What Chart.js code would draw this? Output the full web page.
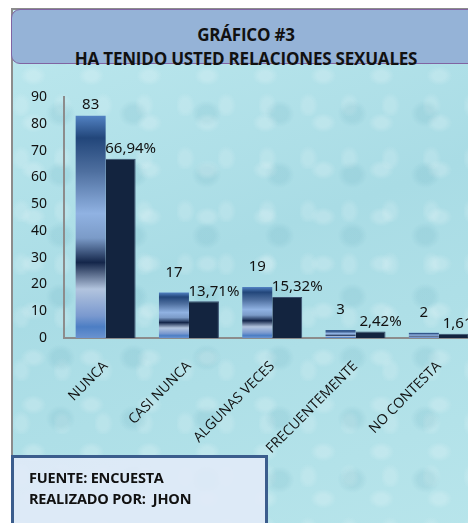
<!DOCTYPE html>
<html>
<head>
<meta charset="utf-8">
<script src="https://cdn.jsdelivr.net/npm/chart.js@4"></script>
<style>
  html, body { margin: 0; padding: 0; background: #fff; overflow: hidden; }
  #wrap { position: relative; width: 468px; height: 523px; overflow: hidden; }
  #frame {
    position: absolute; left: 11px; top: 8px; width: 480px; height: 530px;
    border: 2px solid #8c8c8c; box-sizing: border-box;
    background:
      radial-gradient(ellipse at 35% 40%, rgba(255,255,255,0.18) 0 6px, rgba(255,255,255,0) 13px) 0 0 / 58px 47px,
      radial-gradient(ellipse at 65% 70%, rgba(70,150,170,0.12) 0 8px, rgba(70,150,170,0) 15px) 0 0 / 73px 61px,
      radial-gradient(ellipse at 20% 80%, rgba(255,255,255,0.14) 0 5px, rgba(255,255,255,0) 10px) 0 0 / 41px 53px,
      linear-gradient(160deg, #bde8ee 0%, #a9dce5 45%, #b8e5eb 100%);
  }
  #titleBox {
    position: absolute; left: 11px; top: 9px; width: 480px; height: 55px;
    background: #95b3d7; border: 1.5px solid #8064a2; border-radius: 9px; box-sizing: border-box;
  }
  #title {
    position: absolute; left: 11px; top: 23px; width: 470px; text-align: center;
    font-family: "Open Sans", sans-serif; font-weight: bold; font-size: 17px; line-height: 24px; color: #111;
    letter-spacing: -0.2px;
  }
  #chartBox { position: absolute; left: 0; top: 0; width: 500px; height: 523px; }
  #footer {
    position: absolute; left: 11px; top: 455px; width: 257px; height: 90px;
    border: 3px solid #3b5d8d; box-sizing: border-box; background: rgba(226,234,248,0.88);
    font-family: "Open Sans", sans-serif; font-weight: bold; font-size: 14.5px; line-height: 21px; color: #111;
    padding: 9px 0 0 15px; letter-spacing: -0.2px;
  }
</style>
</head>
<body>
<div id="wrap">
  <div id="frame"></div>
  <div id="titleBox"></div>
  <div id="title">GRÁFICO #3<br>HA TENIDO USTED RELACIONES SEXUALES</div>
  <div id="chartBox"><canvas id="grafico" width="500" height="523"></canvas></div>
  <div id="footer">FUENTE: ENCUESTA<br>REALIZADO POR:&nbsp; JHON</div>
</div>
<script>
const categorias = ["NUNCA", "CASI NUNCA", "ALGUNAS VECES", "FRECUENTEMENTE", "NO CONTESTA"];
const frecuencia = [83, 17, 19, 3, 2];
const porcentaje = [66.94, 13.71, 15.32, 2.42, 1.61];
const yTicks = [0, 10, 20, 30, 40, 50, 60, 70, 80, 90];

function barraMetalica(ctx) {
  const chart = ctx.chart;
  if (!chart.chartArea || ctx.type !== "data") return "#4f7fc0";
  const y = chart.scales.y;
  const top = y.getPixelForValue(ctx.raw);
  const base = y.getPixelForValue(0);
  if (!(base > top)) return "#4f7fc0";
  const g = chart.ctx.createLinearGradient(0, top, 0, base);
  g.addColorStop(0, "#5282c3");
  g.addColorStop(0.1, "#22467a");
  g.addColorStop(0.25, "#4e6f9f");
  g.addColorStop(0.44, "#90b2e2");
  g.addColorStop(0.55, "#7b9bc8");
  g.addColorStop(0.66, "#14264a");
  g.addColorStop(0.78, "#b2c4de");
  g.addColorStop(0.9, "#7a99cf");
  g.addColorStop(0.95, "#4c7ec4");
  g.addColorStop(1, "#6a93d0");
  return g;
}

const etiquetas = {
  id: "etiquetas",
  afterDatasetsDraw(chart) {
    const ctx = chart.ctx;
    ctx.save();
    ctx.fillStyle = "#111";
    ctx.font = "15px 'Noto Sans', sans-serif";
    ctx.textAlign = "center";
    ctx.textBaseline = "middle";
    chart.getDatasetMeta(0).data.forEach((el, i) => {
      ctx.fillText(String(frecuencia[i]), el.x, Math.max(el.y - 20, 105));
    });
    chart.getDatasetMeta(1).data.forEach((el, i) => {
      const txt = porcentaje[i].toFixed(2).replace(".", ",") + "%";
      ctx.fillText(txt, el.x + 10, el.y - 10);
    });
    ctx.restore();
  }
};

new Chart(document.getElementById("grafico"), {
  type: "bar",
  data: {
    labels: categorias,
    datasets: [
      {
        label: "Frecuencia",
        data: frecuencia,
        backgroundColor: barraMetalica,
        barPercentage: 1,
        categoryPercentage: 0.72
      },
      {
        label: "Porcentaje",
        data: porcentaje,
        backgroundColor: "#13243f",
        borderColor: "#3a4f6e",
        borderWidth: { top: 1, right: 1, left: 0, bottom: 0 },
        barPercentage: 1,
        categoryPercentage: 0.72
      }
    ]
  },
  options: {
    responsive: false,
    maintainAspectRatio: false,
    animation: false,
    layout: { padding: { left: 0, top: 97, right: 19.5, bottom: 0 } },
    plugins: {
      legend: { display: false },
      tooltip: { enabled: false }
    },
    scales: {
      x: {
        grid: { display: false, drawTicks: false },
        border: { display: true, color: "#8c8c8c", width: 2 },
        ticks: {
          color: "#111",
          font: { family: "'Open Sans', sans-serif", size: 14 },
          minRotation: 45,
          maxRotation: 45,
          padding: 20
        },
        afterFit(scale) { scale.height = 185; }
      },
      y: {
        min: 0,
        max: 90,
        grid: { display: false, drawTicks: false },
        border: { display: true, color: "#8c8c8c", width: 2 },
        afterBuildTicks(scale) { scale.ticks = yTicks.map(v => ({ value: v })); },
        ticks: {
          color: "#111",
          font: { family: "'Noto Sans', sans-serif", size: 14 },
          padding: 17
        },
        afterFit(scale) { scale.width = 64; }
      }
    }
  },
  plugins: [etiquetas]
});
</script>
</body>
</html>
